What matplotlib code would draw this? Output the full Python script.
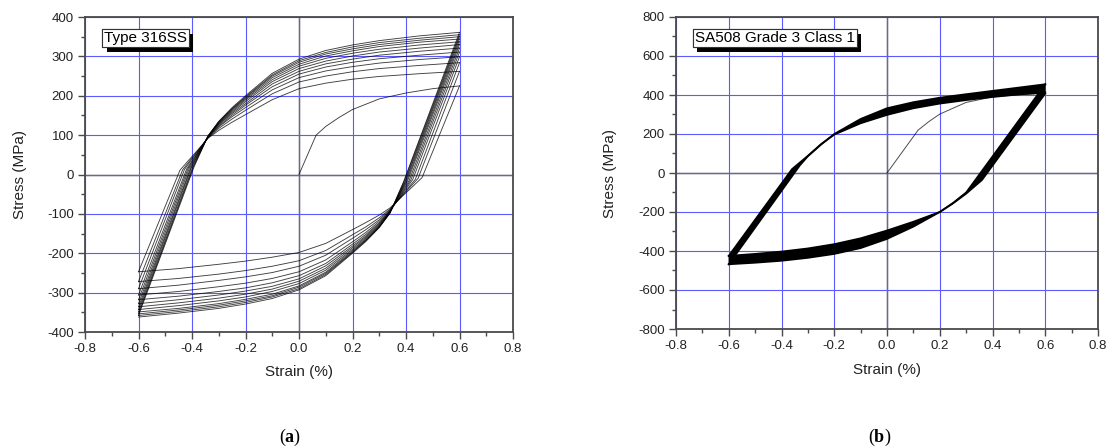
import matplotlib
matplotlib.use("Agg")
import matplotlib.pyplot as plt
from matplotlib.ticker import MultipleLocator, FormatStrFormatter
from matplotlib.patches import Polygon
import matplotlib.patheffects as pe

plt.rcParams['font.family'] = ['Liberation Sans', 'DejaVu Sans']
plt.rcParams['axes.unicode_minus'] = False
plt.rcParams['mathtext.fontset'] = 'custom'
plt.rcParams['mathtext.rm'] = 'Liberation Serif'
plt.rcParams['mathtext.bf'] = 'Liberation Serif:bold'

# ---------------- (a) Type 316SS ----------------
L_INIT_X = [0.0, 0.064, 0.1, 0.15, 0.2, 0.3, 0.4, 0.5, 0.6]
L_INIT_Y = [0, 100, 122, 145, 165, 192, 207, 218, 225]

# tensile peaks at +0.6 % (first = end of initial loading) and compressive peaks at -0.6 %
L_T_PEAK = [225, 262, 284, 299, 311, 321, 330, 337, 344, 350, 355, 361]
L_C_PEAK = [-247, -272, -290, -306, -318, -328, -336, -343, -349, -354, -358, -362]

# descending branches (from +0.6 to -0.6)
L_LOW_KINK_X = [0.46, 0.445, 0.435, 0.425, 0.418, 0.412, 0.406, 0.402, 0.398, 0.395, 0.392, 0.39]
L_LOW_KINK_Y = [-8, -10, -12, -13, -14, -15, -16, -17, -18, -19, -19, -20]
L_LOW_STRAIN = [0.34, 0.3, 0.25, 0.2, 0.1, 0.0, -0.1, -0.2, -0.3, -0.45]
L_LOW_STRESS = [
    [-85, -103, -122, -140, -175, -198, -210, -220, -228, -239],
    [-88, -110, -133, -153, -193, -219, -233, -244, -253, -264],
    [-90, -115, -140, -162, -205, -233, -249, -260, -269, -281],
    [-92, -119, -147, -171, -217, -247, -264, -276, -285, -297],
    [-93, -123, -152, -177, -226, -257, -275, -288, -297, -309],
    [-94, -125, -156, -182, -232, -265, -284, -296, -306, -318],
    [-95, -128, -159, -186, -238, -271, -291, -304, -314, -326],
    [-96, -130, -162, -190, -243, -277, -297, -311, -321, -333],
    [-97, -132, -165, -193, -248, -283, -304, -317, -328, -340],
    [-97, -133, -167, -196, -251, -286, -308, -321, -332, -344],
    [-98, -134, -168, -198, -254, -290, -311, -325, -336, -348],
    [-98, -135, -170, -200, -257, -293, -315, -329, -340, -352],
]

# ascending branches (from -0.6 to +0.6)
L_UP_KINK_X = [-0.445, -0.435, -0.428, -0.42, -0.415, -0.41, -0.405, -0.402, -0.398, -0.395, -0.392]
L_UP_KINK_Y = [11, 12, 13, 14, 15, 16, 17, 18, 18, 19, 20]
L_UP_STRAIN = [-0.34, -0.3, -0.25, -0.2, -0.1, 0.0, 0.1, 0.2, 0.3, 0.45]
L_UP_STRESS = [
    [92, 112, 133, 152, 190, 218, 232, 242, 249, 256],
    [93, 117, 141, 163, 205, 235, 250, 261, 269, 277],
    [94, 121, 147, 170, 215, 246, 263, 274, 283, 292],
    [95, 123, 151, 176, 223, 255, 273, 285, 294, 303],
    [96, 126, 155, 180, 230, 262, 281, 293, 303, 313],
    [96, 128, 158, 185, 236, 269, 288, 301, 311, 321],
    [97, 130, 161, 189, 241, 275, 295, 308, 318, 329],
    [97, 131, 164, 192, 246, 280, 301, 314, 325, 336],
    [97, 133, 166, 195, 250, 285, 306, 319, 330, 341],
    [98, 134, 168, 197, 253, 289, 310, 324, 335, 346],
    [98, 135, 170, 200, 257, 293, 315, 329, 340, 352],
]

# ---------------- (b) SA508 Grade 3 Class 1 ----------------
R_INIT_X = [0.0, 0.118, 0.16, 0.2, 0.3, 0.4, 0.5, 0.6]
R_INIT_Y = [0, 220, 265, 302, 362, 390, 402, 408]

R_LOW_IN_X = [0.6, 0.36, 0.3, 0.25, 0.2, 0.1, 0.0, -0.1, -0.2, -0.3, -0.4, -0.5, -0.6]
R_LOW_IN_Y = [408, -36, -106, -156, -200, -250, -295, -335, -365, -387, -403, -415, -425]
R_LOW_OUT_X = [0.6, 0.33, 0.3, 0.25, 0.2, 0.1, 0.0, -0.1, -0.2, -0.3, -0.4, -0.5, -0.6]
R_LOW_OUT_Y = [455, -45, -100, -154, -200, -275, -338, -385, -415, -435, -450, -460, -468]
R_UP_IN_X = [-0.6, -0.36, -0.3, -0.25, -0.2, -0.1, 0.0, 0.1, 0.2, 0.3, 0.4, 0.5, 0.6]
R_UP_IN_Y = [-425, 20, 88, 148, 197, 255, 298, 332, 356, 374, 390, 403, 413]
R_UP_OUT_X = [-0.6, -0.33, -0.3, -0.25, -0.2, -0.1, 0.0, 0.1, 0.2, 0.3, 0.4, 0.5, 0.6]
R_UP_OUT_Y = [-468, 40, 86, 146, 200, 277, 332, 363, 386, 404, 421, 438, 455]

X_TICKS = [-0.8, -0.6, -0.4, -0.2, 0.0, 0.2, 0.4, 0.6, 0.8]
L_Y_TICKS = [-400, -300, -200, -100, 0, 100, 200, 300, 400]
R_Y_TICKS = [-800, -600, -400, -200, 0, 200, 400, 600, 800]

W, H = 1109, 448
fig = plt.figure(figsize=(W / 100, H / 100), dpi=100)
axL = fig.add_axes([85 / W, 1 - 332 / H, 428 / W, 315 / H])
axR = fig.add_axes([676 / W, 1 - 329 / H, 422 / W, 312 / H])

AX_COL = '#4a4a4a'


def style(ax, yticks, yminor):
    ax.set_xlim(X_TICKS[0], X_TICKS[-1])
    ax.set_ylim(yticks[0], yticks[-1])
    ax.set_xticks(X_TICKS)
    ax.set_yticks(yticks)
    ax.xaxis.set_minor_locator(MultipleLocator(0.1))
    ax.yaxis.set_minor_locator(MultipleLocator(yminor))
    ax.xaxis.set_major_formatter(FormatStrFormatter('%.1f'))
    ax.yaxis.set_major_formatter(FormatStrFormatter('%d'))
    ax.set_axisbelow(True)
    ax.grid(True, which='major', color='#5a5aff', lw=0.8, zorder=0)
    ax.axhline(0, color=AX_COL, lw=1.0, zorder=0.5)
    ax.axvline(0, color=AX_COL, lw=1.0, zorder=0.5)
    for s in ax.spines.values():
        s.set_color(AX_COL)
        s.set_linewidth(1.3)
    ax.tick_params(which='both', direction='out', top=False, right=False,
                   color=AX_COL, labelcolor='#222222', labelsize=9.5, width=1)
    ax.tick_params(which='major', length=5, pad=3)
    ax.tick_params(which='minor', length=3)


def label_box(ax, text):
    t = ax.text(0.045, 0.955, text, transform=ax.transAxes, ha='left', va='top',
                fontsize=11, color='black', zorder=10,
                bbox=dict(boxstyle='square,pad=0.12', fc='white', ec='#333333', lw=0.8))
    t.get_bbox_patch().set_path_effects(
        [pe.withSimplePatchShadow(offset=(3, -3.5), shadow_rgbFace='black', alpha=1.0), pe.Normal()])


style(axL, L_Y_TICKS, 50)
style(axR, R_Y_TICKS, 100)

# ---- draw (a)
LC = dict(color='black', lw=0.65, alpha=0.75, zorder=3)
axL.plot(L_INIT_X, L_INIT_Y, **LC)
for i, row in enumerate(L_LOW_STRESS):
    xs = [0.6, L_LOW_KINK_X[i]] + L_LOW_STRAIN + [-0.6]
    ys = [L_T_PEAK[i], L_LOW_KINK_Y[i]] + row + [L_C_PEAK[i]]
    axL.plot(xs, ys, **LC)
for j, row in enumerate(L_UP_STRESS):
    xs = [-0.6, L_UP_KINK_X[j]] + L_UP_STRAIN + [0.6]
    ys = [L_C_PEAK[j], L_UP_KINK_Y[j]] + row + [L_T_PEAK[j + 1]]
    axL.plot(xs, ys, **LC)

# ---- draw (b)
axR.plot(R_INIT_X, R_INIT_Y, color='black', lw=0.7, alpha=0.7, zorder=3)
for (xi, yi, xo, yo) in [(R_LOW_IN_X, R_LOW_IN_Y, R_LOW_OUT_X, R_LOW_OUT_Y),
                         (R_UP_IN_X, R_UP_IN_Y, R_UP_OUT_X, R_UP_OUT_Y)]:
    verts = list(zip(xi, yi)) + list(zip(xo, yo))[::-1]
    axR.add_patch(Polygon(verts, closed=True, fc='black', ec='none', zorder=3))
    axR.plot(xi, yi, color='black', lw=1.3, zorder=4)
    axR.plot(xo, yo, color='black', lw=1.3, zorder=4)

label_box(axL, 'Type 316SS')
label_box(axR, 'SA508 Grade 3 Class 1')

# axis labels
fig.text(299 / W, 1 - 372 / H, 'Strain (%)', ha='center', va='center', fontsize=11, color='#222222')
fig.text(887 / W, 1 - 370 / H, 'Strain (%)', ha='center', va='center', fontsize=11, color='#222222')
fig.text(20 / W, 1 - 174.5 / H, 'Stress (MPa)', ha='center', va='center', rotation=90, fontsize=11, color='#222222')
fig.text(610 / W, 1 - 173 / H, 'Stress (MPa)', ha='center', va='center', rotation=90, fontsize=11, color='#222222')

# panel letters
fig.text(290 / W, 1 - 437 / H, r'$\mathrm{(}\mathbf{a}\mathrm{)}$', ha='center', va='center', fontsize=13)
fig.text(880 / W, 1 - 437 / H, r'$\mathrm{(}\mathbf{b}\mathrm{)}$', ha='center', va='center', fontsize=13)

fig.savefig('out.png', dpi=100)
